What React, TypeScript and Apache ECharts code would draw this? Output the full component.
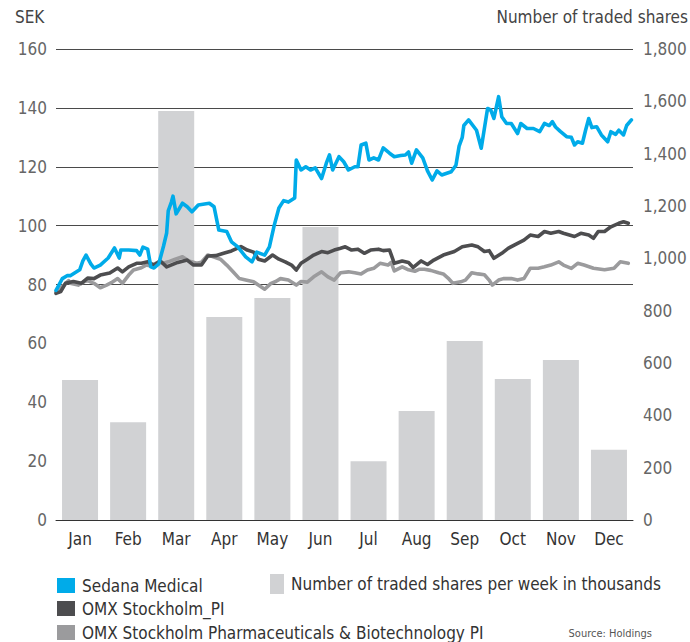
import React, { useEffect, useRef } from "react";
import * as echarts from "echarts";

const months = ["Jan", "Feb", "Mar", "Apr", "May", "Jun", "Jul", "Aug", "Sep", "Oct", "Nov", "Dec"];
// Number of traded shares per week in thousands (monthly bars)
const tradedShares = [535, 374, 1563, 776, 848, 1120, 225, 417, 684, 539, 611, 268];

// [day of year, SEK]
const sedana: [number, number][] = [
  [0, 78], [2, 80], [4, 82], [7, 83], [9, 83], [12, 84], [15, 85], [17, 88], [19, 90], [22, 87],
  [24, 85.6], [28, 86.6], [33, 89], [37, 92.4], [40, 89], [41, 91.7], [46, 91.7], [51, 91.5], [53, 90], [55, 92.7],
  [58, 92], [60, 86], [62, 85.6], [65, 87], [66, 89], [68, 93], [70, 97.5], [71, 105], [73, 108], [74, 110],
  [76, 104], [80, 107.6], [83, 106.4], [86, 104.7], [90, 107], [97, 107.6], [100, 106.4], [103, 98.5], [108, 98], [111, 94.5],
  [115, 92.8], [120, 89.4], [124, 87.7], [127, 91], [132, 90], [135, 92.8], [138, 100], [141, 106], [144, 108.5], [147, 108],
  [151, 109.4], [152, 122.3], [155, 118.9], [158, 120], [161, 118.9], [164, 119.6], [168, 116], [171, 121.2], [173, 124], [175, 118.9],
  [179, 123.4], [182, 121.7], [185, 118.9], [189, 120], [191, 120], [193, 127.4], [196, 128], [198, 122.3], [201, 123], [204, 122.3],
  [207, 126.4], [211, 124.6], [214, 123.4], [218, 123.8], [221, 124], [223, 125], [225, 121.2], [228, 125.7], [232, 123], [235, 118.6],
  [238, 115.5], [241, 118.6], [244, 117.2], [250, 118.3], [253, 120.5], [255, 127], [257, 130], [258, 134], [261, 135.9], [266, 132.4],
  [269, 126.3], [273, 139.8], [275, 139.3], [277, 136.4], [280, 143.8], [282, 137], [285, 134.7], [288, 134.7], [292, 131.3], [294, 134.7],
  [298, 133], [302, 133], [306, 131.9], [309, 134.7], [312, 134], [314, 135.3], [316, 133.5], [319, 132], [323, 130.2], [326, 130],
  [328, 127.4], [330, 128.5], [333, 128], [335, 132.4], [337, 136.4], [339, 133.3], [342, 133.6], [345, 130.8], [349, 128.5], [351, 131.9],
  [354, 131], [356, 132.4], [359, 130.8], [361, 134], [364, 135.9],
];

const omxPI: [number, number][] = [
  [0, 77], [3, 77.6], [6, 80.4], [11, 81], [16, 80.4], [20, 82.2], [24, 82], [28, 83.2], [34, 83.9], [39, 85.6],
  [42, 84.3], [46, 86], [51, 87.2], [54, 87.2], [58, 87.7], [62, 86.6], [66, 88], [70, 86], [77, 87.5], [83, 88.3],
  [87, 86.6], [92, 86.6], [96, 89.7], [101, 89.8], [106, 90.6], [111, 91.4], [117, 92.9], [121, 91.7], [125, 91], [128, 88.6],
  [132, 88], [137, 90], [141, 88.6], [145, 87.7], [149, 86.6], [152, 84.9], [155, 87.2], [159, 88.6], [163, 90], [168, 91.2],
  [172, 90.8], [176, 91.7], [180, 92.3], [183, 92.8], [187, 91.7], [191, 92], [195, 90.6], [199, 91.7], [204, 92], [207, 91.5],
  [211, 91.7], [214, 87.2], [219, 88], [223, 87.5], [226, 85.8], [231, 88], [235, 86.8], [239, 88.3], [245, 90], [252, 91.2],
  [257, 92.8], [263, 93.4], [267, 92.8], [271, 91.2], [274, 91.5], [277, 88.9], [282, 90.6], [286, 92.3], [292, 94], [296, 95.1],
  [300, 96.8], [305, 96.3], [309, 98], [313, 97.4], [318, 98], [321, 97.4], [328, 96.3], [332, 97.4], [337, 96.8], [340, 95.7],
  [343, 98], [347, 98], [351, 99.6], [356, 100.8], [359, 101.3], [362, 100.8],
];

const omxPharma: [number, number][] = [
  [0, 77.6], [3, 79], [5, 79.8], [8, 81.3], [9, 80.4], [14, 79.8], [18, 81], [20, 81.3], [24, 80.4], [28, 78.9],
  [32, 79.8], [35, 80.6], [39, 82], [42, 80.4], [46, 83.2], [49, 84.9], [54, 85.7], [57, 86.6], [60, 86.3], [65, 87.7],
  [68, 87.2], [71, 87.7], [75, 88.5], [80, 89.4], [84, 88], [89, 87.2], [92, 87.6], [96, 90], [99, 89.5], [104, 88.6],
  [108, 86.6], [112, 84.3], [116, 82], [120, 81.5], [125, 80.9], [128, 79.8], [132, 78.4], [136, 80.4], [139, 81], [142, 82],
  [147, 81.5], [152, 79.8], [155, 81], [159, 80.8], [163, 82.6], [168, 84.3], [172, 82.6], [176, 81.5], [180, 84], [185, 84.3],
  [189, 84], [193, 83.6], [197, 84.9], [201, 85.5], [205, 87.2], [210, 86.6], [212, 87.5], [214, 84.6], [219, 86], [223, 85],
  [227, 84.5], [230, 85.2], [233, 85.2], [237, 84.8], [242, 84], [245, 83.6], [248, 82.2], [251, 80.4], [256, 80.9], [259, 81.5],
  [263, 84], [267, 83.6], [271, 83.3], [274, 81.5], [276, 79.8], [280, 81.5], [283, 82], [288, 82], [292, 81.5], [296, 82],
  [300, 85.5], [305, 85.5], [309, 86], [313, 86.6], [318, 87.7], [321, 86.6], [326, 85.5], [330, 87.2], [334, 86.6], [340, 85.5],
  [347, 85], [353, 85.5], [357, 87.7], [362, 87.2],
];

const FONT = "'Liberation Sans Narrow', 'DejaVu Sans Condensed', 'Roboto', sans-serif";
const GRID_COLOR = "#4a4a4a";
const TRANSPARENT = "rgba(0,0,0,0)";

export default function App() {
  const ref = useRef<HTMLDivElement>(null);
  useEffect(() => {
    if (!ref.current) return;
    const chart = echarts.init(ref.current, null, { renderer: "svg" });
    const legendBase = {
      icon: "rect",
      itemWidth: 18,
      itemHeight: 15,
      padding: 0,
      selectedMode: false,
      textStyle: { fontSize: 17, color: "#333", fontFamily: FONT, padding: [0, 0, 0, 2] },
    };
    const lineBase = {
      type: "line",
      xAxisIndex: 1,
      yAxisIndex: 0,
      showSymbol: false,
      lineStyle: { width: 3.6, cap: "round", join: "round" },
    };
    chart.setOption({
      animation: false,
      backgroundColor: "#fff",
      grid: { left: 56, right: 57, top: 49, bottom: 122, containLabel: false },
      xAxis: [
        {
          type: "category",
          data: months,
          axisLine: { show: true, lineStyle: { color: "#333", width: 1 } },
          axisTick: { show: false },
          axisLabel: { fontSize: 17, color: "#333", fontFamily: FONT, margin: 10 },
        },
        { type: "value", min: 0, max: 365, show: false },
      ],
      yAxis: [
        {
          type: "value",
          min: 0,
          max: 160,
          interval: 20,
          axisLine: { show: false },
          axisTick: { show: false },
          axisLabel: { fontSize: 17, color: "#666", fontFamily: FONT, margin: 9 },
          splitLine: {
            show: true,
            lineStyle: {
              width: 1,
              color: [TRANSPARENT, TRANSPARENT, TRANSPARENT, TRANSPARENT, GRID_COLOR, GRID_COLOR, GRID_COLOR, GRID_COLOR, GRID_COLOR],
            },
          },
        },
        {
          type: "value",
          min: 0,
          max: 1800,
          interval: 200,
          position: "right",
          axisLine: { show: false },
          axisTick: { show: false },
          splitLine: { show: false },
          axisLabel: {
            fontSize: 17,
            color: "#666",
            fontFamily: FONT,
            margin: 10,
            formatter: (v: number) => v.toLocaleString("en-US"),
          },
        },
      ],
      legend: [
        { ...legendBase, data: ["Sedana Medical"], left: 57, top: 577 },
        { ...legendBase, itemWidth: 14, itemHeight: 20, data: ["Number of traded shares per week in thousands"], left: 270, top: 574 },
        { ...legendBase, data: ["OMX Stockholm_PI"], left: 57, top: 600 },
        { ...legendBase, data: ["OMX Stockholm Pharmaceuticals & Biotechnology PI"], left: 57, top: 624 },
      ],
      graphic: [
        { type: "text", left: 15, top: 8, style: { text: "SEK", fontSize: 17, fill: "#444", fontFamily: FONT } },
        { type: "text", right: 2, top: 8, style: { text: "Number of traded shares", fontSize: 17, fill: "#444", fontFamily: FONT } },
        { type: "text", right: 38, top: 628, style: { text: "Source: Holdings", fontSize: 11, fill: "#555", fontFamily: FONT } },
      ],
      series: [
        {
          name: "Number of traded shares per week in thousands",
          type: "bar",
          xAxisIndex: 0,
          yAxisIndex: 1,
          data: tradedShares,
          barWidth: 36,
          itemStyle: { color: "#d1d2d4" },
          z: 1,
        },
        {
          ...lineBase,
          name: "OMX Stockholm Pharmaceuticals & Biotechnology PI",
          data: omxPharma,
          lineStyle: { ...lineBase.lineStyle, color: "#9b9b9d" },
          itemStyle: { color: "#9b9b9d" },
          z: 3,
        },
        {
          ...lineBase,
          name: "OMX Stockholm_PI",
          data: omxPI,
          lineStyle: { ...lineBase.lineStyle, color: "#4d4d4f" },
          itemStyle: { color: "#4d4d4f" },
          z: 4,
        },
        {
          ...lineBase,
          name: "Sedana Medical",
          data: sedana,
          lineStyle: { ...lineBase.lineStyle, color: "#00abe9" },
          itemStyle: { color: "#00abe9" },
          z: 5,
        },
      ],
    });
    return () => chart.dispose();
  }, []);
  return <div ref={ref} style={{ position: "fixed", left: 0, top: 0, width: 690, height: 642 }} />;
}
